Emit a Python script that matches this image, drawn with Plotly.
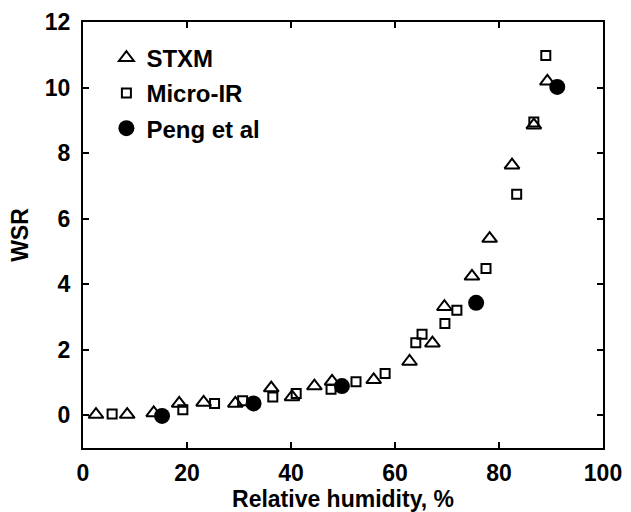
import plotly.graph_objects as go

# STXM (triangles)
stxm_rh = [2.5, 8.5, 13.6, 18.5, 23.2, 29.3, 36.2, 40.2, 44.5, 47.9, 55.9, 62.8, 67.2, 69.5, 74.8, 78.2, 82.5, 86.7, 89.3]
stxm_wsr = [0.02, 0.02, 0.07, 0.36, 0.39, 0.36, 0.83, 0.56, 0.89, 1.03, 1.08, 1.64, 2.2, 3.31, 4.24, 5.39, 7.63, 8.85, 10.19]

# Micro-IR (squares)
ir_rh = [5.6, 19.2, 25.3, 30.7, 36.5, 41.0, 47.7, 52.5, 58.1, 64.0, 65.2, 69.6, 71.9, 77.5, 83.4, 86.7, 89.0]
ir_wsr = [0.04, 0.17, 0.36, 0.44, 0.56, 0.66, 0.79, 1.02, 1.27, 2.21, 2.47, 2.80, 3.20, 4.48, 6.74, 8.95, 10.98]

# Peng et al (filled circles)
peng_rh = [15.2, 32.8, 49.8, 75.6, 91.2]
peng_wsr = [-0.02, 0.36, 0.89, 3.43, 10.02]

x_ticks = [0, 20, 40, 60, 80, 100]
y_ticks = [0, 2, 4, 6, 8, 10, 12]

FONT = "Liberation Sans, Arial, sans-serif"

fig = go.Figure()
fig.add_trace(go.Scatter(
    x=stxm_rh, y=stxm_wsr, mode="markers", name="STXM", legendgroup="a",
    marker=dict(symbol="triangle-up-open", size=13, color="black", line=dict(width=2, color="black")),
))
fig.add_trace(go.Scatter(
    x=ir_rh, y=ir_wsr, mode="markers", name="Micro-IR", legendgroup="b",
    marker=dict(symbol="square-open", size=9, color="black", line=dict(width=2, color="black")),
))
fig.add_trace(go.Scatter(
    x=peng_rh, y=peng_wsr, mode="markers", name="Peng et al", legendgroup="c",
    marker=dict(symbol="circle", size=16, color="black", line=dict(width=0)),
))

axis_common = dict(
    showline=True, linecolor="black", linewidth=2, mirror="ticks",
    ticks="inside", ticklen=6, tickwidth=2, tickcolor="black",
    showgrid=False, zeroline=False, automargin=False,
    tickfont=dict(family=FONT, size=23, color="black", weight="bold"),
)

fig.update_xaxes(range=[0, 100], tickvals=x_ticks, ticklabelstandoff=3,
                 title=dict(text="Relative humidity, %", standoff=2,
                            font=dict(family=FONT, size=23, color="black", weight="bold")),
                 **axis_common)
fig.update_yaxes(range=[-1, 12], tickvals=y_ticks, ticklabelstandoff=6,
                 title=dict(text="WSR", standoff=10,
                            font=dict(family=FONT, size=23, color="black", weight="bold")),
                 **axis_common)

fig.update_layout(
    width=631, height=512,
    margin=dict(l=82.5, r=28, t=22, b=64),
    paper_bgcolor="white", plot_bgcolor="white",
    showlegend=True,
    legend=dict(x=0.045, y=0.968, xanchor="left", yanchor="top",
                bgcolor="rgba(0,0,0,0)", tracegroupgap=1, traceorder="grouped",
                font=dict(family=FONT, size=24, color="black", weight="bold")),
)

fig.write_html("out.html")
